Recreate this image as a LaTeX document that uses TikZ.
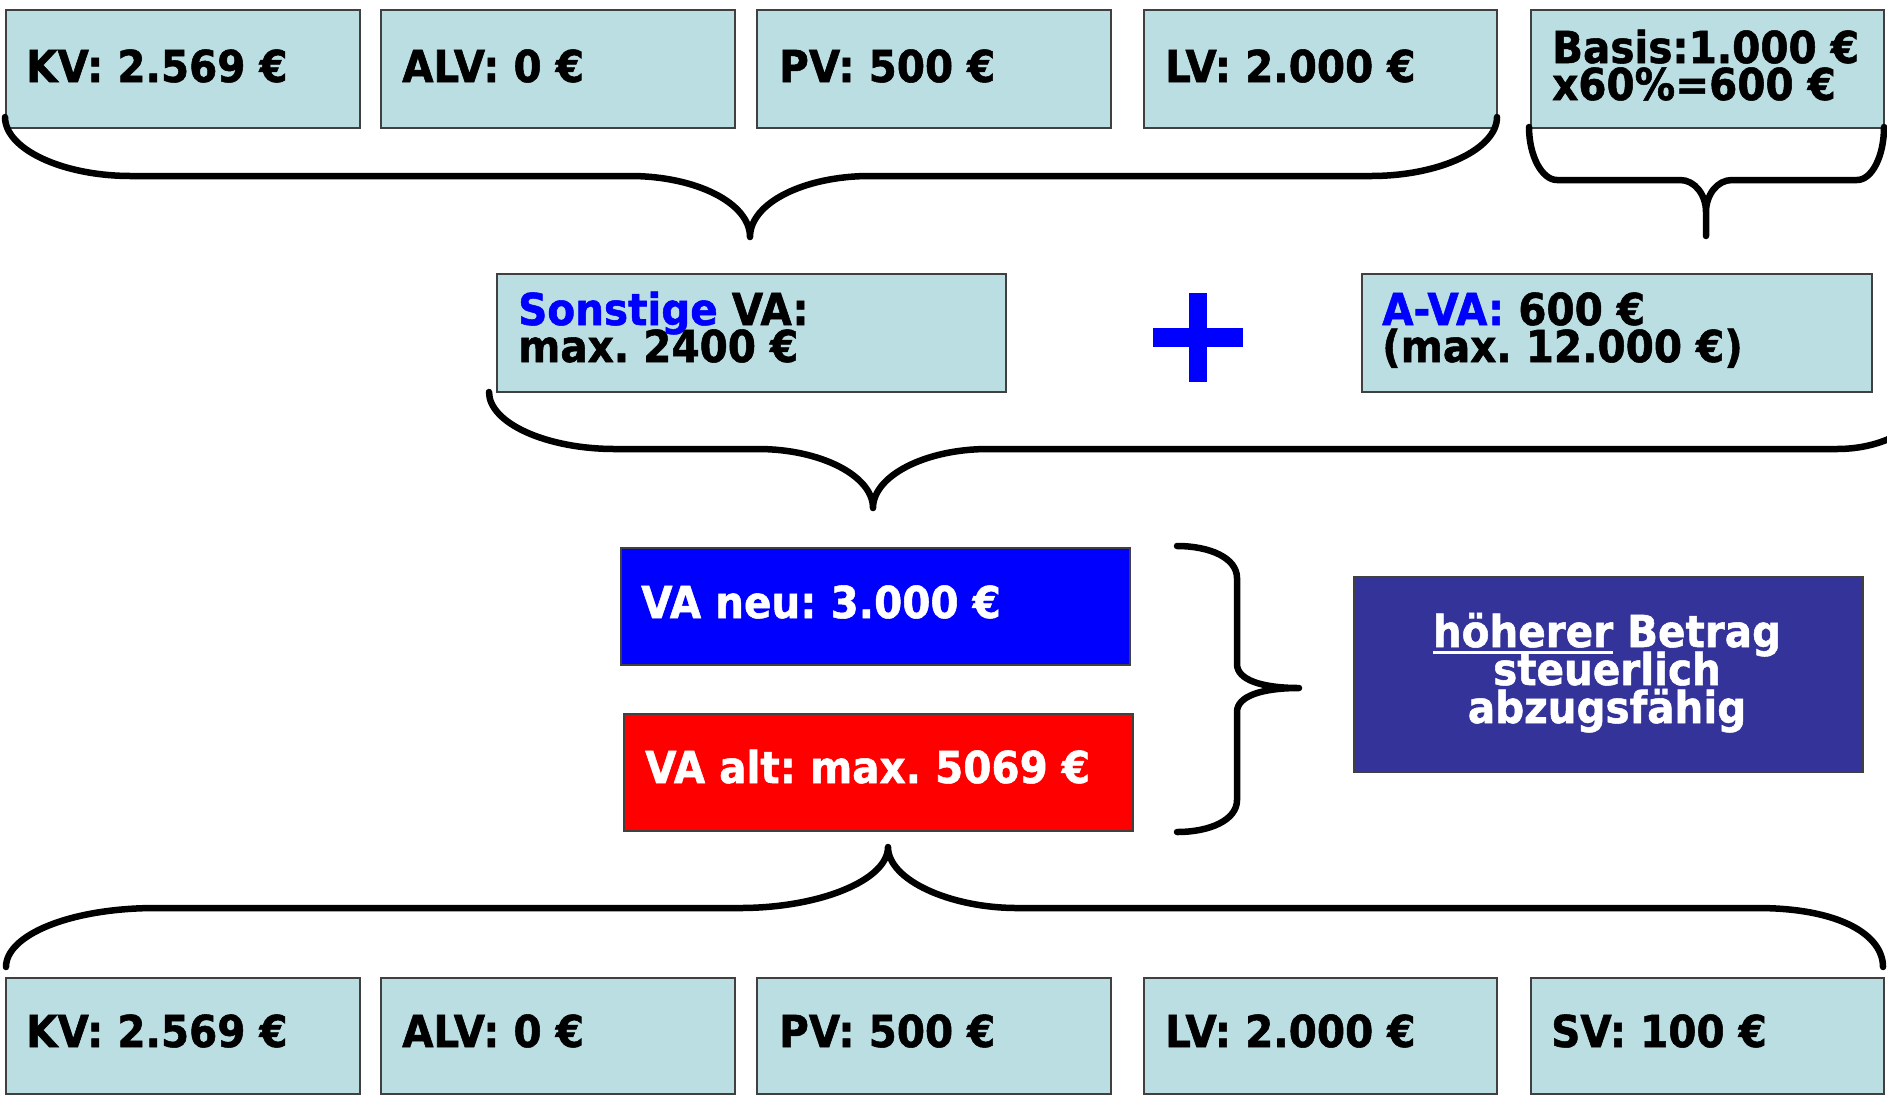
\documentclass[tikz,border=0pt]{standalone}
\usepackage{fontspec}
\setmainfont{DejaVu Sans}[FakeStretch=0.92, BoldFeatures={FakeBold=1.2}]
\definecolor{lightbox}{RGB}{187,222,227}
\definecolor{boxline}{RGB}{64,64,64}
\definecolor{vablue}{RGB}{0,0,255}
\definecolor{vared}{RGB}{255,0,0}
\definecolor{vanavy}{RGB}{51,51,153}
\newcommand\myul[1]{\setbox0=\hbox{#1}\rlap{\rule[-7pt]{\wd0}{3pt}}\box0\relax}
\frenchspacing
\tikzset{
  box/.style={draw=boxline, line width=1.5pt, fill=lightbox, inner sep=0pt, anchor=north west},
  lbl/.style={anchor=base west, inner sep=0pt, font=\fontsize{44}{37}\selectfont\bfseries\frenchspacing},
  wlbl/.style={lbl, text=white},
  clbl/.style={lbl, anchor=base, text=white},
  brace/.style={draw=black, line width=6.5pt, line cap=round, line join=round},
}
\begin{document}
\begin{tikzpicture}[x=1pt,y=-1pt]
\useasboundingbox (0,0) rectangle (1887,1096);
\clip (0,0) rectangle (1887,1096);

% top row
\node[box, minimum width=354pt, minimum height=118pt] (t1) at (5,9) {};
\node[box, minimum width=354pt, minimum height=118pt] (t2) at (380,9) {};
\node[box, minimum width=354pt, minimum height=118pt] (t3) at (756,9) {};
\node[box, minimum width=353pt, minimum height=118pt] (t4) at (1143,9) {};
\node[box, minimum width=353pt, minimum height=118pt] (t5) at (1530,9) {};
\node[lbl] (t1l) at (26,82) {KV: 2.569 €};
\node[lbl] (t2l) at (402,82) {ALV: 0 €};
\node[lbl] (t3l) at (779,82) {PV: 500 €};
\node[lbl] (t4l) at (1165,82) {LV: 2.000 €};
\node[lbl] (t5a) at (1552,63) {Basis:1.000 €};
\node[lbl] (t5b) at (1552,100) {x60\%=600 €};

% braces top
\path[brace] (5,117) .. controls (5,149) and (62,176) .. (131,176) -- (630,176)
  .. controls (696,176) and (750,203) .. (750,237)
  .. controls (750,203) and (804,176) .. (870,176) -- (1371,176)
  .. controls (1440,176) and (1497,149) .. (1497,117);
\path[brace] (1529,127) .. controls (1529,156) and (1542,180) .. (1557,180) -- (1680,180)
  .. controls (1695,180) and (1706,195) .. (1706,212) -- (1706,236) -- (1706,212)
  .. controls (1706,195) and (1717,180) .. (1732,180) -- (1857,180)
  .. controls (1872,180) and (1884,156) .. (1884,127);

% middle row
\node[box, minimum width=509pt, minimum height=118pt] (son) at (496,273) {};
\node[box, minimum width=510pt, minimum height=118pt] (ava) at (1361,273) {};
\node[lbl] (sona) at (518,325) {\textcolor{vablue}{Sonstige} VA:};
\node[lbl] (sonb) at (518,362) {max. 2400 €};
\node[lbl] (avaa) at (1382,325) {\textcolor{vablue}{A-VA:} 600 €};
\node[lbl] (avab) at (1382,362) {(max. 12.000 €)};
\fill[vablue] (1189,293) rectangle (1207,382);
\fill[vablue] (1153,328) rectangle (1243,347);

\path[brace] (489,392) .. controls (489,423) and (546,449) .. (615,449) -- (758,449)
  .. controls (821,449) and (873,476) .. (873,508)
  .. controls (873,476) and (925,449) .. (988,449) -- (1837,449)
  .. controls (1887,449) and (1927,424) .. (1927,393);

% VA boxes
\node[box, fill=vablue, minimum width=509pt, minimum height=117pt] (neu) at (620,547) {};
\node[box, fill=vared, minimum width=509pt, minimum height=117pt] (alt) at (623,713) {};
\node[wlbl] (neul) at (641,618) {VA neu: 3.000 €};
\node[wlbl] (altl) at (645,783) {VA alt: max. 5069 €};

\path[brace] (1177,546) .. controls (1210,546) and (1237,558) .. (1237,578) -- (1237,664)
  .. controls (1237,680) and (1262,688) .. (1299,688)
  .. controls (1262,688) and (1237,696) .. (1237,712) -- (1237,800)
  .. controls (1237,820) and (1210,832) .. (1177,832);

\node[box, fill=vanavy, minimum width=509pt, minimum height=195pt] (res) at (1353,576) {};
\node[clbl] (resa) at (1607,647) {\myul{höherer} Betrag};
\node[clbl] (resb) at (1607,685) {steuerlich};
\node[clbl] (resc) at (1607,723) {abzugsfähig};

% bottom brace
\path[brace] (6,967) .. controls (6,935) and (70,908) .. (156,908) -- (740,908)
  .. controls (820,908) and (888,880) .. (888,847)
  .. controls (888,880) and (950,908) .. (1017,908) -- (1757,908)
  .. controls (1840,908) and (1883,935) .. (1883,967);

% bottom row
\node[box, minimum width=354pt, minimum height=116pt] (b1) at (5,977) {};
\node[box, minimum width=354pt, minimum height=116pt] (b2) at (380,977) {};
\node[box, minimum width=354pt, minimum height=116pt] (b3) at (756,977) {};
\node[box, minimum width=353pt, minimum height=116pt] (b4) at (1143,977) {};
\node[box, minimum width=353pt, minimum height=116pt] (b5) at (1530,977) {};
\node[lbl] (b1l) at (26,1047) {KV: 2.569 €};
\node[lbl] (b2l) at (402,1047) {ALV: 0 €};
\node[lbl] (b3l) at (779,1047) {PV: 500 €};
\node[lbl] (b4l) at (1165,1047) {LV: 2.000 €};
\node[lbl] (b5l) at (1551,1047) {SV: 100 €};
\end{tikzpicture}
\end{document}
